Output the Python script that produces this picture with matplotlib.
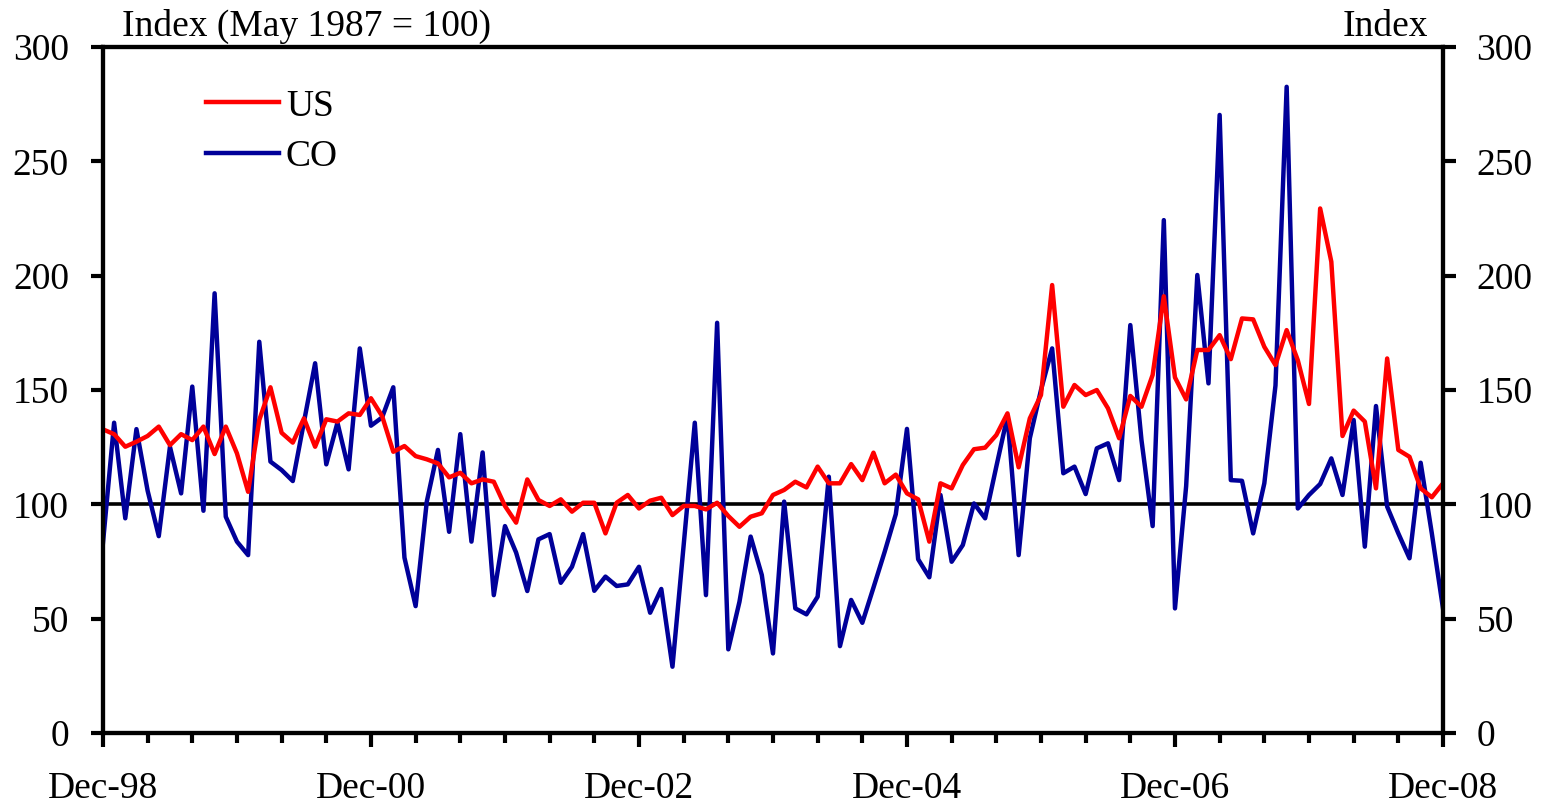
import numpy as np
import matplotlib
matplotlib.use("Agg")
import matplotlib.pyplot as plt

plt.rcParams['font.family'] = ['Liberation Serif', 'DejaVu Serif']

# monthly index values, Dec-98 .. Dec-08 (May 1987 = 100)
us = [132.8, 130.7, 125.2, 127.4, 129.9, 134.0, 125.9, 130.7, 128.1, 134.0,
      122.0, 134.0, 122.3, 105.5, 136.9, 151.2, 131.3, 127.0, 137.6, 125.2,
      137.2, 136.2, 139.8, 139.1, 146.4, 138.6, 123.0, 125.5, 121.1, 119.7,
      117.9, 111.8, 113.8, 109.2, 110.9, 109.9, 99.3, 92.0, 110.9, 101.9,
      99.3, 102.2, 96.8, 100.7, 100.7, 87.3, 100.7, 104.1, 98.2, 101.6,
      102.9, 95.3, 99.3, 99.3, 97.8, 100.7, 94.9, 90.2, 94.6, 96.1,
      104.1, 106.3, 109.9, 107.4, 116.5, 109.2, 109.2, 117.6, 110.6, 122.6,
      109.2, 113.0, 104.8, 102.2, 83.7, 109.2, 107.0, 117.2, 124.1, 124.8,
      130.3, 139.8, 116.2, 137.6, 147.8, 195.9, 142.7, 152.2, 147.8, 150.0,
      142.0, 128.9, 147.4, 142.7, 156.6, 191.0, 155.5, 145.9, 167.5, 167.5,
      174.0, 163.5, 181.3, 180.9, 168.9, 160.9, 176.2, 163.0, 143.9, 229.4,
      206.1, 129.9, 141.0, 136.2, 107.0, 163.8, 123.8, 120.8, 107.0, 103.1,
      109.2]
co = [83.0, 135.7, 93.9, 132.9, 106.0, 86.1, 125.2, 104.8, 151.5, 97.2,
      192.3, 94.6, 83.7, 77.8, 171.1, 118.7, 115.0, 110.2, 136.0, 161.7,
      117.5, 135.7, 115.3, 168.2, 134.4, 138.0, 151.2, 76.7, 55.5, 101.2,
      123.8, 88.0, 130.7, 83.7, 122.7, 60.3, 90.5, 78.9, 62.1, 84.7,
      87.0, 65.7, 72.7, 87.0, 62.2, 68.4, 64.3, 65.0, 72.7, 52.6,
      63.0, 29.0, 82.0, 135.7, 60.3, 179.4, 36.6, 57.4, 85.9, 69.1,
      34.8, 101.2, 54.5, 51.9, 59.6, 112.1, 38.0, 58.2, 48.2, 63.6,
      79.2, 95.7, 133.0, 76.0, 68.1, 104.1, 74.9, 82.2, 100.4, 93.9,
      116.5, 138.6, 77.8, 128.9, 150.0, 168.2, 113.6, 116.5, 104.5, 124.5,
      126.7, 110.6, 178.4, 128.1, 90.5, 224.3, 54.5, 108.0, 200.3, 152.9,
      270.3, 110.6, 110.3, 87.3, 109.2, 152.0, 282.6, 98.2, 104.1, 108.9,
      120.1, 104.1, 136.9, 81.5, 143.0, 99.0, 87.3, 76.4, 118.2, 87.3,
      54.5]
date_labels = ['Dec-98', 'Dec-00', 'Dec-02', 'Dec-04', 'Dec-06', 'Dec-08']
months = np.arange(len(us))

fig = plt.figure(figsize=(15.41, 8.08), dpi=100)
ax = fig.add_axes([0.0668, 0.0928, 0.8696, 0.849])

ax.axhline(100, color='black', lw=2.6, zorder=1)
ax.plot(months, us, color='#ff0000', lw=3.2, label='US', zorder=3)
ax.plot(months, co, color='#000099', lw=3.2, label='CO', zorder=2)

ax.set_xlim(0, 120)
ax.set_ylim(0, 300)
ax.set_yticks(np.arange(0, 301, 50))
ax.set_xticks(np.arange(0, 121, 24))
ax.set_xticklabels(date_labels)
ax.set_xticks(np.arange(0, 121, 4), minor=True)

for s in ax.spines.values():
    s.set_linewidth(3)
ax.tick_params(axis='y', direction='out', length=9, width=3, pad=15.5, labelsize=27)
ax.tick_params(axis='x', which='major', direction='out', length=10, width=3, pad=18, labelsize=27)
ax.tick_params(axis='x', which='minor', direction='out', length=7, width=3)

ax2 = ax.twinx()
ax2.set_ylim(0, 300)
ax2.set_yticks(np.arange(0, 301, 50))
ax2.tick_params(axis='y', direction='out', length=9, width=3, pad=15, labelsize=27)
for s in ax2.spines.values():
    s.set_linewidth(3)

fig.text(0.0792, 0.956, 'Index (May 1987 = 100)', fontsize=27, ha='left', va='baseline')
fig.text(0.9267, 0.956, 'Index', fontsize=27, ha='right', va='baseline')

ax.legend(loc='upper left', bbox_to_anchor=(0.0515, 0.988), frameon=False, fontsize=27,
          handlelength=1.95, handletextpad=0.19, labelspacing=0.42)

fig.savefig('out.png', dpi=100)
